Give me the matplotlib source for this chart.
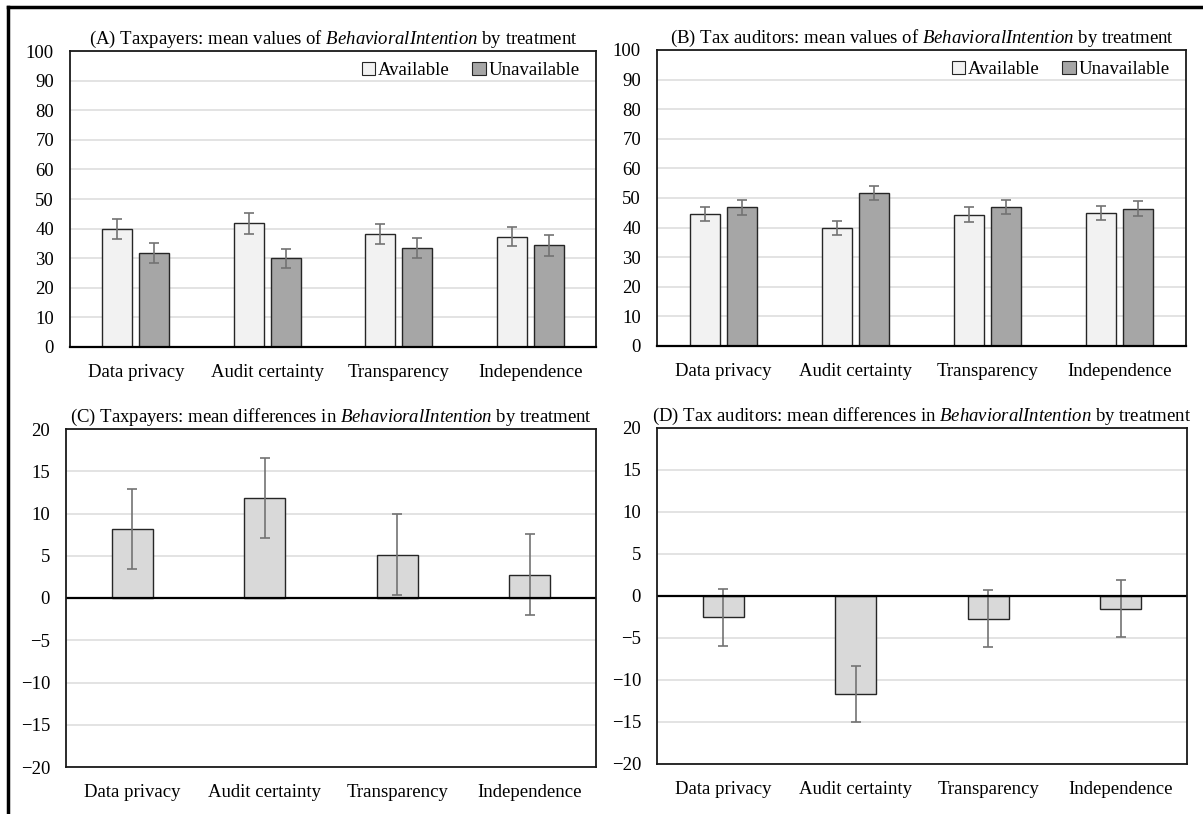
import matplotlib.pyplot as plt
import numpy as np
from matplotlib.patches import Patch
from matplotlib.lines import Line2D

plt.rcParams['font.family'] = ['Liberation Serif', 'DejaVu Serif']
plt.rcParams['mathtext.fontset'] = 'custom'
plt.rcParams['mathtext.rm'] = 'Liberation Serif'
plt.rcParams['mathtext.it'] = 'Liberation Serif:italic'

categories = ['Data privacy', 'Audit certainty', 'Transparency', 'Independence']

# taxpayers, mean values
tp_avail = [40.0, 41.8, 38.3, 37.2]
tp_avail_err = [3.4, 3.5, 3.4, 3.2]
tp_unavail = [31.8, 29.9, 33.4, 34.4]
tp_unavail_err = [3.3, 3.2, 3.4, 3.5]

# tax auditors, mean values
ta_avail = [44.5, 39.9, 44.4, 44.9]
ta_avail_err = [2.4, 2.3, 2.4, 2.3]
ta_unavail = [46.8, 51.6, 47.0, 46.4]
ta_unavail_err = [2.5, 2.4, 2.4, 2.5]

# mean differences
tp_diff = [8.2, 11.85, 5.1, 2.75]
tp_diff_err = [4.75, 4.7, 4.8, 4.8]
ta_diff = [-2.55, -11.7, -2.7, -1.5]
ta_diff_err = [3.4, 3.35, 3.4, 3.4]

W, H = 1203, 814
fig = plt.figure(figsize=(W / 100, H / 100), dpi=100)


def px_axes(l, t, r, b):
    return fig.add_axes([l / W, 1 - b / H, (r - l) / W, (b - t) / H])


FS = 13.5
c_av, c_un, c_diff = '#f2f2f2', '#a6a6a6', '#d9d9d9'
edge = '#262626'
ecol = '#737373'


def style(ax, ylim, step):
    ax.set_xlim(-0.5, 3.5)
    ax.set_ylim(*ylim)
    ax.set_yticks(np.arange(ylim[0], ylim[1] + 1, step))
    ax.set_xticks(np.arange(len(categories)))
    ax.set_xticklabels(categories)
    ax.tick_params(length=0, labelsize=FS)
    ax.tick_params(axis='y', pad=11.5)
    ax.tick_params(axis='x', pad=12)
    ax.yaxis.grid(True, color='#e0e0e0', lw=1.3)
    ax.set_axisbelow(True)
    for s in ax.spines.values():
        s.set_color('#1a1a1a')
        s.set_linewidth(1.3)


def mean_panel(ax, av, av_err, un, un_err, title):
    x = np.arange(len(categories))
    off, bw = 0.14, 0.227
    ax.bar(x - off, av, bw, color=c_av, edgecolor=edge, lw=1)
    ax.bar(x + off, un, bw, color=c_un, edgecolor=edge, lw=1)
    ax.errorbar(x - off, av, yerr=av_err, fmt='none', ecolor=ecol, elinewidth=1.2, capsize=3.5, capthick=1.2)
    ax.errorbar(x + off, un, yerr=un_err, fmt='none', ecolor=ecol, elinewidth=1.2, capsize=3.5, capthick=1.2)
    style(ax, (0, 100), 10)
    ax.spines['bottom'].set_linewidth(1.6)
    ax.spines['bottom'].set_color('black')
    ax.set_title(title, fontsize=FS, pad=5)
    handles = [Patch(facecolor=c_av, edgecolor=edge, lw=0.8, label='Available'),
               Patch(facecolor=c_un, edgecolor=edge, lw=0.8, label='Unavailable')]
    ax.legend(handles=handles, loc='upper right', ncol=2, frameon=False, fontsize=FS,
              handlelength=0.7, handleheight=0.7, handletextpad=0.15, columnspacing=1.2,
              borderaxespad=0.2, bbox_to_anchor=(0.99, 1.0))


def diff_panel(ax, d, d_err, title):
    x = np.arange(len(categories))
    ax.bar(x, d, 0.31, color=c_diff, edgecolor=edge, lw=1)
    ax.errorbar(x, d, yerr=d_err, fmt='none', ecolor=ecol, elinewidth=1.2, capsize=3.5, capthick=1.2)
    style(ax, (-20, 20), 5)
    ax.axhline(0, color='black', lw=1.6)
    ax.set_title(title, fontsize=FS, pad=5)


axA = px_axes(70, 51, 596, 347)
mean_panel(axA, tp_avail, tp_avail_err, tp_unavail, tp_unavail_err,
           r'(A) Taxpayers: mean values of $\mathit{BehavioralIntention}$ by treatment')

axB = px_axes(657, 50, 1186, 346)
mean_panel(axB, ta_avail, ta_avail_err, ta_unavail, ta_unavail_err,
           r'(B) Tax auditors: mean values of $\mathit{BehavioralIntention}$ by treatment')

axC = px_axes(66, 429, 596, 767)
diff_panel(axC, tp_diff, tp_diff_err,
           r'(C) Taxpayers: mean differences in $\mathit{BehavioralIntention}$ by treatment')

axD = px_axes(657, 428, 1187, 764)
diff_panel(axD, ta_diff, ta_diff_err,
           r'(D) Tax auditors: mean differences in $\mathit{BehavioralIntention}$ by treatment')

# outer frame (top and left edges)
fig.add_artist(Line2D([8 / W, 8 / W], [0, 1 - 7 / H], transform=fig.transFigure, color='black', lw=2.5))
fig.add_artist(Line2D([8 / W, 1], [1 - 7 / H, 1 - 7 / H], transform=fig.transFigure, color='black', lw=2.5))

fig.savefig('out.png', dpi=100)
